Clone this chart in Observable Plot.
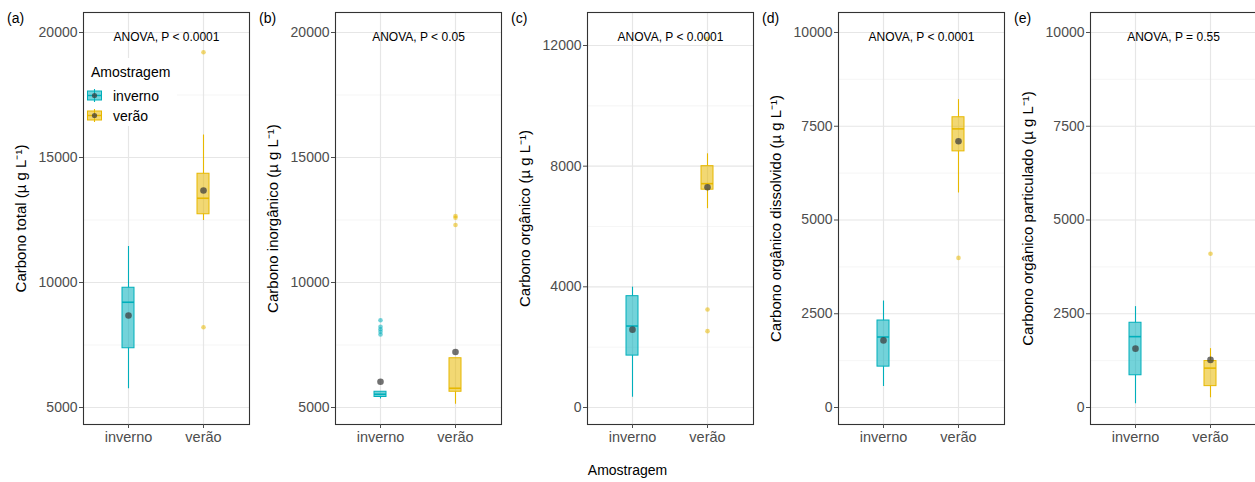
<!DOCTYPE html>
<html><head><meta charset="utf-8">
<script src="https://cdn.jsdelivr.net/npm/d3@7"></script>
<script src="https://cdn.jsdelivr.net/npm/@observablehq/plot@0.6"></script>
<style>
html,body{margin:0;padding:0;background:#fff;}
#chart{position:relative;width:1255px;height:482px;overflow:hidden;font-family:"Liberation Sans",Arial,sans-serif;background:#fff;}
.panel{position:absolute;top:0;}
.panel svg{max-width:none !important;}
.tag{position:absolute;top:10px;font-size:14px;color:#000;line-height:16px;}
#legend{position:absolute;left:85px;top:58px;width:92px;height:68px;background:#fff;}
#legend .title{position:absolute;left:6px;top:6px;font-size:14px;line-height:16px;color:#000;}
#legend .row{position:absolute;left:2px;height:17px;display:flex;align-items:center;font-size:14px;color:#000;}
#legend .row svg{margin-right:11px;}
#xtitle{position:absolute;left:0;width:1255px;top:462px;text-align:center;font-size:14px;color:#000;line-height:16px;}
</style></head><body><div id="chart"></div>
<script>
// ---- data ----
const seasons = ["inverno", "verão"];
const seasonColors = ["#00AFBB", "#E7B800"];
const panelTags = ["(a)", "(b)", "(c)", "(d)", "(e)"];
const yTitles = [
  "Carbono total (µ g L⁻¹)",
  "Carbono inorgânico (µ g L⁻¹)",
  "Carbono orgânico (µ g L⁻¹)",
  "Carbono orgânico dissolvido (µ g L⁻¹)",
  "Carbono orgânico particulado (µ g L⁻¹)"
];
const anovaLabels = ["ANOVA, P < 0.0001", "ANOVA, P < 0.05", "ANOVA, P < 0.0001", "ANOVA, P < 0.0001", "ANOVA, P = 0.55"];
const majorTicks = [
  [5000, 10000, 15000, 20000],
  [5000, 10000, 15000, 20000],
  [0, 4000, 8000, 12000],
  [0, 2500, 5000, 7500, 10000],
  [0, 2500, 5000, 7500, 10000]
];
const minorTicks = [
  [7500, 12500, 17500],
  [7500, 12500, 17500],
  [2000, 6000, 10000],
  [1250, 3750, 6250, 8750],
  [1250, 3750, 6250, 8750]
];
const yDomains = [[4320, 20800], [4320, 20800], [-564, 13094], [-453, 10533], [-453, 10533]];
// per panel: [inverno, verão]
const whiskerLow  = [[5750, 12480], [5340, 5130], [340, 6590], [560, 5720], [100, 260]];
const q1          = [[7370, 12730], [5420, 5630], [1720, 7220], [1090, 6830], [860, 570]];
const median      = [[9210, 13370], [5530, 5770], [2700, 7420], [1880, 7430], [1890, 1050]];
const q3          = [[9790, 14350], [5630, 6970], [3690, 8000], [2320, 7740], [2260, 1240]];
const whiskerHigh = [[11440, 15900], [5630, 6970], [3990, 8410], [2840, 8210], [2690, 1570]];
const means       = [[8680, 13680], [6030, 7220], [2580, 7300], [1790, 7100], [1570, 1270]];
const outliers = [
  [[], [19210, 8210]],
  [[8490, 8230, 8130, 8030, 7920], [12660, 12590, 12300]],
  [[], [12220, 3250, 2530]],
  [[], [3990]],
  [[], [4100]]
];

// ---- layout ----
const frameLefts = [83, 335, 587, 838, 1090];
const ML = 83, MR = 2, MT = 12, MB = 58, H = 482, FW = 166;
const chart = document.getElementById("chart");

panelTags.forEach((tag, i) => {
  const rows = seasons.map((s, j) => ({
    season: s, lo: whiskerLow[i][j], q1: q1[i][j], med: median[i][j],
    q3: q3[i][j], hi: whiskerHigh[i][j], mean: means[i][j]
  }));
  const outs = seasons.flatMap((s, j) => outliers[i][j].map(v => ({season: s, v})));
  const W = ML + FW + MR;
  const svg = Plot.plot({
    width: W, height: H,
    marginLeft: ML, marginRight: MR, marginTop: MT, marginBottom: MB,
    style: {fontFamily: '"Liberation Sans", Arial, sans-serif', fontSize: "14px", background: "transparent", overflow: "visible"},
    x: {type: "band", domain: seasons, paddingInner: 0.834, paddingOuter: 0.517, axis: null},
    y: {domain: yDomains[i], axis: null},
    color: {domain: seasons, range: seasonColors},
    marks: [
      Plot.ruleY(minorTicks[i], {y: d => d, stroke: "#f0f0f0", strokeWidth: 0.7}),
      Plot.ruleY(majorTicks[i], {y: d => d, stroke: "#e6e6e6", strokeWidth: 1.2}),
      Plot.ruleX(seasons, {x: d => d, stroke: "#e6e6e6", strokeWidth: 1.2}),
      Plot.ruleX(rows, {x: "season", y1: "q3", y2: "hi", stroke: "season", strokeWidth: 1.1}),
      Plot.ruleX(rows, {x: "season", y1: "lo", y2: "q1", stroke: "season", strokeWidth: 1.1}),
      Plot.barY(rows, {x: "season", y1: "q1", y2: "q3", fill: "season", fillOpacity: 0.55, stroke: "season", strokeWidth: 1}),
      Plot.tickY(rows, {x: "season", y: "med", stroke: "season", strokeWidth: 1.6}),
      Plot.dot(outs, {x: "season", y: "v", r: 2.3, fill: "season", fillOpacity: 0.55, stroke: null}),
      Plot.dot(rows, {x: "season", y: "mean", r: 3.3, fill: "#3a3a3a", fillOpacity: 0.72, stroke: null}),
      Plot.text([anovaLabels[i]], {text: d => d, frameAnchor: "top", dy: 20, fontSize: 12, fill: "#000"}),
      Plot.frame({stroke: "#333", strokeWidth: 1.1}),
      Plot.axisY(majorTicks[i], {tickSize: 4, tickPadding: 2, fontSize: 14, color: "#4d4d4d", tickFormat: d => String(d), label: null}),
      Plot.axisX({tickSize: 4, tickPadding: 3, fontSize: 14.5, color: "#4d4d4d", label: null}),
      Plot.text([yTitles[i]], {text: d => d, frameAnchor: "left", textAnchor: "middle", rotate: -90, dx: -62, fontSize: 15, fill: "#000"})
    ]
  });
  const wrap = document.createElement("div");
  wrap.className = "panel";
  wrap.style.left = (frameLefts[i] - ML) + "px";
  wrap.style.width = W + "px";
  wrap.style.height = H + "px";
  wrap.appendChild(svg);
  chart.appendChild(wrap);

  const t = document.createElement("div");
  t.className = "tag";
  t.style.left = (frameLefts[i] - 76) + "px";
  t.textContent = tag;
  chart.appendChild(t);
});

// legend
const legend = document.createElement("div");
legend.id = "legend";
let html = '<div class="title">Amostragem</div>';
seasons.forEach((s, j) => {
  const c = seasonColors[j];
  html += `<div class="row" style="top:${29 + j * 20}px"><svg width="15" height="17" viewBox="0 0 15 17">
    <line x1="7.5" x2="7.5" y1="2" y2="15" stroke="${c}" stroke-width="1.1"/>
    <rect x="0.5" y="4" width="14" height="9" fill="${c}" fill-opacity="0.55" stroke="${c}"/>
    <line x1="0.5" x2="14.5" y1="8.5" y2="8.5" stroke="${c}" stroke-width="1.4"/>
    <circle cx="7.5" cy="8.5" r="2.6" fill="#3a3a3a" fill-opacity="0.72"/>
  </svg>${s}</div>`;
});
legend.innerHTML = html;
chart.appendChild(legend);

const xt = document.createElement("div");
xt.id = "xtitle";
xt.textContent = "Amostragem";
chart.appendChild(xt);
</script></body></html>
